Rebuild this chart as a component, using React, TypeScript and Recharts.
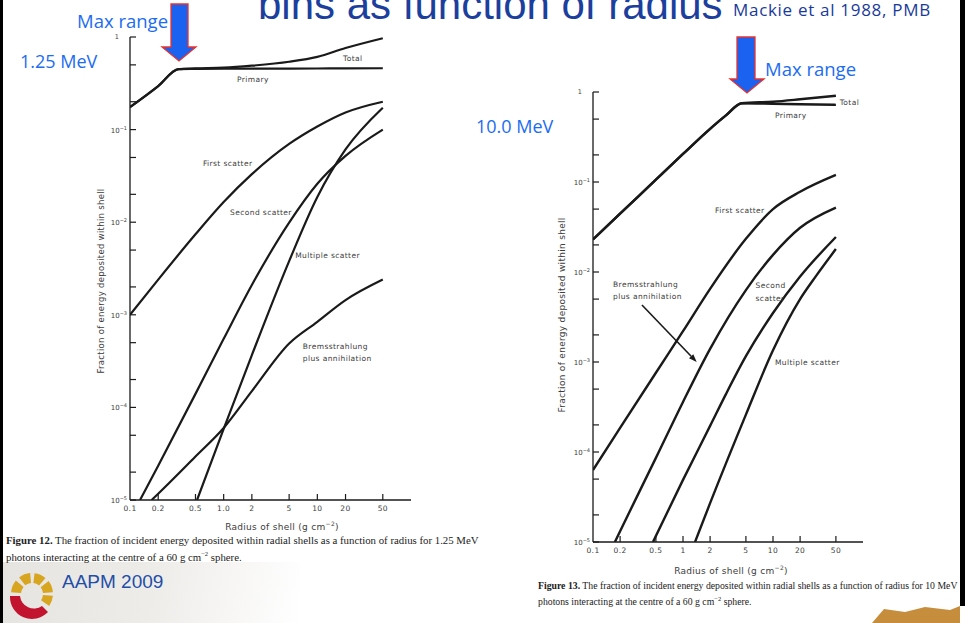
import React from 'react';
import { LineChart, Line, XAxis, YAxis, ReferenceDot, ReferenceLine } from 'recharts';

// Fig. 12 - 1.25 MeV photons (radius in g cm^-2, fraction of incident energy)
const lowTotalR = [0.1, 0.2, 0.33, 0.5, 1, 2, 5, 10, 20, 50];
const lowTotal = [0.175, 0.295, 0.45, 0.458, 0.466, 0.49, 0.54, 0.61, 0.76, 0.97];
const lowPrimaryR = [0.1, 0.2, 0.33, 0.5, 1, 2, 5, 10, 20, 50];
const lowPrimary = [0.175, 0.295, 0.45, 0.452, 0.454, 0.455, 0.456, 0.457, 0.458, 0.46];
const lowFirstR = [0.1, 0.2, 0.5, 1, 2, 5, 10, 20, 50];
const lowFirst = [1e-3, 2.4e-3, 7.4e-3, 0.0165, 0.033, 0.07, 0.108, 0.153, 0.2];
const lowSecondR = [0.128, 0.2, 0.5, 1, 2, 5, 10, 20, 50];
const lowSecond = [1e-5, 2.35e-5, 1.4e-4, 5.5e-4, 2.1e-3, 9.9e-3, 0.026, 0.052, 0.1];
const lowMultipleR = [0.52, 1, 2, 5, 10, 20, 50];
const lowMultiple = [1e-5, 5.85e-5, 3.67e-4, 3.8e-3, 0.0187, 0.061, 0.172];
const lowBremsR = [0.17, 0.2, 0.5, 1, 2, 5, 10, 20, 50];
const lowBrems = [1e-5, 1.17e-5, 2.95e-5, 6e-5, 1.5e-4, 4.9e-4, 8.4e-4, 1.44e-3, 2.4e-3];

// Fig. 13 - 10 MeV photons
const highTotalR = [0.1, 0.2, 0.5, 1, 2, 3, 4.5, 10, 20, 50];
const highTotal = [0.023, 0.0445, 0.106, 0.205, 0.39, 0.55, 0.75, 0.78, 0.83, 0.91];
const highPrimaryR = [0.1, 0.2, 0.5, 1, 2, 3, 4.5, 10, 20, 50];
const highPrimary = [0.023, 0.0445, 0.106, 0.205, 0.39, 0.55, 0.75, 0.74, 0.73, 0.72];
const highFirstR = [0.1, 0.2, 0.5, 1, 2, 5, 10, 20, 50];
const highFirst = [6.3e-5, 1.85e-4, 7.6e-4, 2.2e-3, 6.5e-3, 0.0234, 0.05, 0.078, 0.12];
const highBremsR = [0.175, 0.2, 0.5, 1, 2, 5, 10, 20, 50];
const highBrems = [1e-5, 1.32e-5, 8.6e-5, 3.6e-4, 1.4e-3, 6.3e-3, 0.0155, 0.031, 0.052];
const highSecondR = [0.464, 1, 2, 3, 5, 10, 20, 50];
const highSecond = [1e-5, 4.9e-5, 1.95e-4, 4.4e-4, 1.16e-3, 3.5e-3, 8.9e-3, 0.0245];
const highMultipleR = [1.36, 2, 5, 10, 20, 30, 50];
const highMultiple = [1e-5, 2.7e-5, 2.6e-4, 1.35e-3, 5e-3, 9e-3, 0.018];

const radiusTicks = [0.1, 0.2, 0.5, 1, 2, 5, 10, 20, 50];
const lowRadiusLabels = ['0.1', '0.2', '0.5', '1.0', '2', '5', '10', '20', '50'];
const highRadiusLabels = ['0.1', '0.2', '0.5', '1', '2', '5', '10', '20', '50'];
const fractionTicks = [1e-5, 2e-5, 5e-5, 1e-4, 2e-4, 5e-4, 1e-3, 2e-3, 5e-3, 0.01, 0.02, 0.05, 0.1, 0.2, 0.5, 1];

const lowNotes = [
  { text: 'Total', x: 18.8, y: 0.6 },
  { text: 'Primary', x: 1.39, y: 0.35 },
  { text: 'First scatter', x: 0.6, y: 0.044 },
  { text: 'Second scatter', x: 1.17, y: 0.0128 },
  { text: 'Multiple scatter', x: 5.8, y: 4.4e-3 },
  { text: 'Bremsstrahlung', x: 7.0, y: 4.6e-4 },
  { text: 'plus annihilation', x: 7.0, y: 3.4e-4 },
];
const highNotes = [
  { text: 'Total', x: 55, y: 0.78 },
  { text: 'Primary', x: 10.5, y: 0.56 },
  { text: 'First scatter', x: 2.27, y: 0.049 },
  { text: 'Bremsstrahlung', x: 0.167, y: 7.4e-3 },
  { text: 'plus annihilation', x: 0.167, y: 5.4e-3 },
  { text: 'Second', x: 6.4, y: 7.1e-3 },
  { text: 'scatter', x: 6.4, y: 5.1e-3 },
  { text: 'Multiple scatter', x: 10.5, y: 1.0e-3 },
];

const INK = '#1a1a1a';
const TXT = '#3c3c3c';
const FIG_FONT = '"DejaVu Sans", "Liberation Sans", sans-serif';
const SLIDE_BLUE = '#1c6cf2';

const zip = (xs: number[], ys: number[]) => xs.map((x, i) => ({ x, y: ys[i] }));
const isDecade = (v: number) => Math.abs(Math.log10(v) - Math.round(Math.log10(v))) < 1e-6;

function leftTick(p: any) {
  const v = p.payload.value;
  const e = Math.round(Math.log10(v));
  return (
    <g>
      <line x1={p.x} y1={p.y} x2={p.x + 6} y2={p.y} stroke={INK} strokeWidth={1.2} />
      {isDecade(v) &&
        (e === 0 ? (
          <text x={p.x - 11} y={p.y + 2} textAnchor="end" fontSize={6.5} fill={TXT} fontFamily={FIG_FONT}>1</text>
        ) : (
          <text x={p.x - 3} y={p.y + 3} textAnchor="end" fontSize={7} fill={TXT} fontFamily={FIG_FONT}>
            10<tspan dy={-3} fontSize={5}>{'−' + -e}</tspan>
          </text>
        ))}
    </g>
  );
}

function rightTick(p: any) {
  const v = p.payload.value;
  if (v <= 1e-5 || v >= 1) return <g />;
  return <line x1={p.x} y1={p.y} x2={p.x - 6} y2={p.y} stroke={INK} strokeWidth={1.2} />;
}

function topTick(p: any) {
  if (p.payload.value <= 0.1) return <g />;
  return <line x1={p.x} y1={p.y} x2={p.x} y2={p.y + 6} stroke={INK} strokeWidth={1.2} />;
}

const bottomTick = (labels: string[]) => (p: any) => {
  const i = radiusTicks.indexOf(p.payload.value);
  return (
    <g>
      {i > 0 && <line x1={p.x} y1={p.y} x2={p.x} y2={p.y - 6} stroke={INK} strokeWidth={1.2} />}
      <text x={p.x} y={p.y + 11} textAnchor="middle" fontSize={7.5} letterSpacing={0.4} fill={TXT} fontFamily={FIG_FONT}>
        {labels[i]}
      </text>
    </g>
  );
};

const noteShape = (text: string) => (p: any) => (
  <text x={p.cx} y={p.cy} dy={3} fontSize={7.5} letterSpacing={0.4} fill={TXT} fontFamily={FIG_FONT}>
    {text}
  </text>
);

function pointerShape(p: any) {
  const { x1, y1, x2, y2 } = p;
  const a = Math.atan2(y2 - y1, x2 - x1);
  const len = 8;
  const w = 3;
  const bx = x2 - len * Math.cos(a);
  const by = y2 - len * Math.sin(a);
  const pts = [
    [x2, y2],
    [bx + w * Math.sin(a), by - w * Math.cos(a)],
    [bx - w * Math.sin(a), by + w * Math.cos(a)],
  ];
  return (
    <g>
      <line x1={x1} y1={y1} x2={bx} y2={by} stroke={INK} strokeWidth={1.6} />
      <polygon points={pts.map((q) => q.join(',')).join(' ')} fill={INK} />
    </g>
  );
}

type Series = { r: number[]; f: number[] };

function ShellPlot(props: {
  width: number;
  height: number;
  top: number;
  series: Series[];
  notes: { text: string; x: number; y: number }[];
  radiusLabels: string[];
  strokeWidth: number;
  pointer?: { x: number; y: number }[];
}) {
  const axisLine = { stroke: INK, strokeWidth: 1.3 };
  return (
    <LineChart width={props.width} height={props.height} margin={{ top: props.top, right: 10, bottom: 20, left: 28 }}>
      <XAxis
        dataKey="x"
        type="number"
        scale="log"
        domain={[0.1, 100]}
        allowDataOverflow
        ticks={radiusTicks}
        interval={0}
        height={20}
        tickSize={0}
        tickMargin={0}
        tickLine={false}
        axisLine={axisLine}
        tick={bottomTick(props.radiusLabels)}
      />
      <XAxis
        xAxisId="top"
        orientation="top"
        type="number"
        scale="log"
        domain={[0.1, 100]}
        allowDataOverflow
        ticks={radiusTicks}
        interval={0}
        height={0}
        tickSize={0}
        tickMargin={0}
        tickLine={false}
        axisLine={axisLine}
        tick={topTick}
      />
      <YAxis
        type="number"
        scale="log"
        domain={[1e-5, 1]}
        allowDataOverflow
        ticks={fractionTicks}
        interval={0}
        width={40}
        tickSize={0}
        tickMargin={0}
        tickLine={false}
        axisLine={axisLine}
        tick={leftTick}
      />
      <YAxis
        yAxisId="right"
        orientation="right"
        type="number"
        scale="log"
        domain={[1e-5, 1]}
        allowDataOverflow
        ticks={fractionTicks}
        interval={0}
        width={0}
        tickSize={0}
        tickMargin={0}
        tickLine={false}
        axisLine={axisLine}
        tick={rightTick}
      />
      {props.series.map((s, i) => (
        <Line
          key={i}
          data={zip(s.r, s.f)}
          dataKey="y"
          type="monotone"
          stroke={INK}
          strokeWidth={props.strokeWidth}
          dot={false}
          activeDot={false}
          isAnimationActive={false}
        />
      ))}
      {props.notes.map((n, i) => (
        <ReferenceDot key={'n' + i} x={n.x} y={n.y} r={0} shape={noteShape(n.text)} />
      ))}
      {props.pointer && <ReferenceLine segment={props.pointer} shape={pointerShape} />}
    </LineChart>
  );
}

const lowSeries: Series[] = [
  { r: lowTotalR, f: lowTotal },
  { r: lowPrimaryR, f: lowPrimary },
  { r: lowFirstR, f: lowFirst },
  { r: lowSecondR, f: lowSecond },
  { r: lowMultipleR, f: lowMultiple },
  { r: lowBremsR, f: lowBrems },
];
const highSeries: Series[] = [
  { r: highTotalR, f: highTotal },
  { r: highPrimaryR, f: highPrimary },
  { r: highFirstR, f: highFirst },
  { r: highBremsR, f: highBrems },
  { r: highSecondR, f: highSecond },
  { r: highMultipleR, f: highMultiple },
];
const bremsPointer = [
  { x: 0.35, y: 4.3e-3 },
  { x: 1.42, y: 1.0e-3 },
];

const abs = (left: number, top: number, extra: React.CSSProperties = {}): React.CSSProperties => ({
  position: 'absolute',
  left,
  top,
  whiteSpace: 'nowrap',
  lineHeight: 1,
  ...extra,
});

const comic = '"Comic Sans MS", "Open Sans", sans-serif';
const axisTitle = (size: number): React.CSSProperties => ({
  fontSize: size,
  letterSpacing: 0.3,
  color: TXT,
  fontFamily: FIG_FONT,
});

export default function App() {
  return (
    <div style={{ position: 'absolute', left: 0, top: 0, width: 965, height: 623, overflow: 'hidden', background: '#fff' }}>
      {/* faded building behind the logo */}
      <div
        style={{
          position: 'absolute',
          left: 0,
          top: 562,
          width: 300,
          height: 61,
          background: 'linear-gradient(100deg, #e6e4e0 0%, #eeece9 50%, rgba(255,255,255,0) 100%)',
        }}
      />

      <div style={abs(62, 0)}>
        <ShellPlot
          width={359}
          height={540}
          top={37}
          series={lowSeries}
          notes={lowNotes}
          radiusLabels={lowRadiusLabels}
          strokeWidth={2.2}
        />
      </div>
      <div style={abs(525, 0)}>
        <ShellPlot
          width={348}
          height={582}
          top={92}
          series={highSeries}
          notes={highNotes}
          radiusLabels={highRadiusLabels}
          strokeWidth={2.4}
          pointer={bremsPointer}
        />
      </div>

      {/* axis titles */}
      <div style={abs(101, 281, { transform: 'translate(-50%,-50%) rotate(-90deg)', ...axisTitle(8.5) })}>
        Fraction of energy deposited within shell
      </div>
      <div style={abs(562, 315, { transform: 'translate(-50%,-50%) rotate(-90deg)', ...axisTitle(9) })}>
        Fraction of energy deposited within shell
      </div>
      <div style={abs(282, 526, { transform: 'translate(-50%,-50%)', ...axisTitle(9) })}>
        Radius of shell (g cm<sup style={{ fontSize: 6 }}>−2</sup>)
      </div>
      <div style={abs(731, 570, { transform: 'translate(-50%,-50%)', ...axisTitle(9) })}>
        Radius of shell (g cm<sup style={{ fontSize: 6 }}>−2</sup>)
      </div>

      {/* captions */}
      <div style={abs(6, 533, { fontSize: 10.8, lineHeight: '14px', color: '#222', fontFamily: '"Liberation Serif", serif' })}>
        <b>Figure 12.</b> The fraction of incident energy deposited within radial shells as a function of radius for 1.25 MeV
        <br />
        photons interacting at the centre of a 60 g cm<sup style={{ fontSize: 6.5 }}>−2</sup> sphere.
      </div>
      <div style={abs(538, 579, { fontSize: 9.75, lineHeight: '13px', color: '#222', fontFamily: '"Liberation Serif", serif' })}>
        <b>Figure 13.</b> The fraction of incident energy deposited within radial shells as a function of radius for 10 MeV
        <br />
        photons interacting at the centre of a 60 g cm<sup style={{ fontSize: 6.5 }}>−2</sup> sphere.
      </div>

      {/* slide decorations */}
      <div style={abs(258, -16, { fontSize: 42, color: '#1c3f9e', fontFamily: '"Liberation Sans", Arial, sans-serif' })}>
        bins as function of radius
      </div>
      <div style={abs(733, 1, { fontSize: 17, letterSpacing: 0.7, color: '#1a3a9a', fontFamily: comic })}>
        Mackie et al 1988, PMB
      </div>
      <div style={abs(77, 12, { fontSize: 18.5, color: SLIDE_BLUE, fontFamily: comic })}>Max range</div>
      <div style={abs(20, 52, { fontSize: 18, color: SLIDE_BLUE, fontFamily: comic })}>1.25 MeV</div>
      <div style={abs(476, 117, { fontSize: 18, color: SLIDE_BLUE, fontFamily: comic })}>10.0 MeV</div>
      <div style={abs(765, 60, { fontSize: 18.5, color: SLIDE_BLUE, fontFamily: comic })}>Max range</div>
      <div style={abs(62, 572, { fontSize: 19, color: '#1f4ea8', fontFamily: '"Liberation Sans", Arial, sans-serif' })}>AAPM 2009</div>

      <svg width={965} height={623} style={{ position: 'absolute', left: 0, top: 0, pointerEvents: 'none' }}>
        <polygon
          points="171,4 188,4 188,47 196,47 179,61 162,47 171,47"
          fill="#1c62f0"
          stroke="#e8322e"
          strokeWidth={1.3}
        />
        <polygon
          points="737,37 755,37 755,79 764,79 747,93 730,79 737,79"
          fill="#1c62f0"
          stroke="#e8322e"
          strokeWidth={1.3}
        />
        {/* AAPM logo */}
        <g transform="translate(32,594)">
          {[[-175, -140], [-128, -95], [-83, -50], [-38, -5], [5, 35]].map(([a0, a1], i) => {
            const r0 = 11;
            const r1 = 21;
            const rad = (d: number) => (d * Math.PI) / 180;
            const p = (r: number, d: number) => `${(r * Math.cos(rad(d))).toFixed(2)},${(r * Math.sin(rad(d))).toFixed(2)}`;
            return (
              <path
                key={i}
                d={`M${p(r0, a0)} L${p(r1, a0)} A${r1},${r1} 0 0 1 ${p(r1, a1)} L${p(r0, a1)} A${r0},${r0} 0 0 0 ${p(r0, a0)} Z`}
                fill="#d8a521"
              />
            );
          })}
          <path d="M-22,2 A22,22 0 0 0 16,18 L10,12 A14,14 0 0 1 -12,2 Z" fill="#c2142e" />
        </g>
        {/* corner ornament */}
        <g fill="#c58d3c">
          <polygon points="872,623 884,609 905,612 925,607 950,610 960,606 960,623" />
        </g>
        <rect x={0} y={0} width={3} height={623} fill="#000" />
        <rect x={960} y={0} width={5} height={606} fill="#000" />
      </svg>
    </div>
  );
}
